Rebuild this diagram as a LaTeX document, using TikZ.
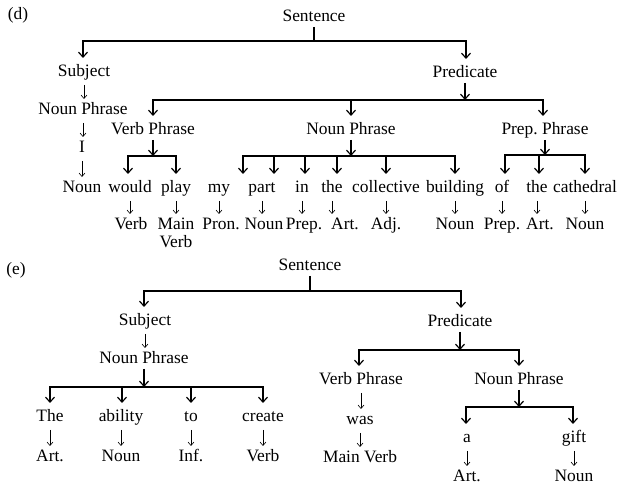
\documentclass[tikz,border=0pt]{standalone}
\usepackage{fontspec}
\setmainfont{Liberation Serif}
\usetikzlibrary{arrows.meta,calc}
\frenchspacing
\newcommand\thinarr[2]{\draw[tA] ($(#1.base)+(0,8)$) -- ($(#1.base |- #2.base)+(0,-16)$);}
\newcommand\parentarr[2]{\draw[bA] ($(#1.base)+(0,5)$) -- (#1.base |- #2);}
\newcommand\cornerarr[4][0]{\draw[bA] (#2.base |- #4) -| ($(#3.base)+(#1,-19)$);}
\newcommand\midarr[3][0]{\draw[bA] ($(#2.base |- #3)+(#1,0)$) -- ($(#2.base)+(#1,-19)$);}
\begin{document}
\begin{tikzpicture}[x=1pt,y=-1pt,
  w/.style={font=\fontsize{17.4}{20}\selectfont, anchor=base, inner sep=0pt},
  bL/.style={line width=1.2pt},
  bA/.style={line width=1.2pt, -{Straight Barb[length=5pt,width=9pt]}},
  tA/.style={line width=0.6pt, -{Straight Barb[length=3.5pt,width=6pt]}}]
\useasboundingbox (0,0) rectangle (625,486);
% ---------------- (d) ----------------
\node[w] (dlab) at (18,20) {(d)};
\node[w] (dSen) at (314,22) {Sentence};
\node[w] (dSubj) at (84,77) {Subject};
\node[w] (dPred) at (465,78) {Predicate};
\node[w] (dNPs) at (83,115) {Noun Phrase};
\node[w] (dI) at (82,153) {I};
\node[w] (dNoun0) at (82,193) {Noun};
\node[w] (dVP) at (153,135) {Verb Phrase};
\node[w] (dNP) at (351,135) {Noun Phrase};
\node[w] (dPP) at (545,135) {Prep.\ Phrase};
\node[w] (dWould) at (130,193) {would};
\node[w] (dPlay) at (176,193) {play};
\node[w] (dMy) at (219,193) {my};
\node[w] (dPart) at (262,193) {part};
\node[w] (dIn) at (302,193) {in};
\node[w] (dThe) at (332,193) {the};
\node[w] (dColl) at (386,193) {collective};
\node[w] (dBuild) at (455,193) {building};
\node[w] (dOf) at (502,193) {of};
\node[w] (dThe2) at (537,193) {the};
\node[w] (dCath) at (585,193) {cathedral};
\node[w] (dVerb) at (131,230) {Verb};
\node[w] (dMain) at (176,230) {Main};
\node[w] (dMainV) at (176,248) {Verb};
\node[w] (dPron) at (221,230) {Pron.};
\node[w] (dNoun1) at (264,230) {Noun};
\node[w] (dPrep1) at (304,230) {Prep.};
\node[w] (dArt1) at (345,230) {Art.};
\node[w] (dAdj) at (386,230) {Adj.};
\node[w] (dNoun2) at (455,230) {Noun};
\node[w] (dPrep2) at (502,230) {Prep.};
\node[w] (dArt2) at (540,230) {Art.};
\node[w] (dNoun3) at (585,230) {Noun};
\coordinate (yA) at (0,41);
\coordinate (yB) at (0,100);
\coordinate (yC) at (0,156);
\coordinate (yD) at (0,156);
\coordinate (yE) at (0,155);
\draw[bL] ($(dSen.base)+(0,5)$) -- (dSen.base |- yA);
\cornerarr[-1]{dSen}{dSubj}{yA}
\cornerarr[1]{dSen}{dPred}{yA}
\parentarr{dPred}{yB}
\cornerarr{dPred}{dVP}{yB}
\cornerarr[-2]{dPred}{dPP}{yB}
\midarr{dNP}{yB}
\parentarr{dVP}{yC}
\cornerarr[-2]{dVP}{dWould}{yC}
\cornerarr{dVP}{dPlay}{yC}
\parentarr{dNP}{yD}
\cornerarr[24]{dNP}{dMy}{yD}
\cornerarr{dNP}{dBuild}{yD}
\midarr[12]{dPart}{yD}
\midarr[3]{dIn}{yD}
\midarr[5]{dThe}{yD}
\midarr{dColl}{yD}
\parentarr{dPP}{yE}
\cornerarr[3]{dPP}{dOf}{yE}
\cornerarr{dPP}{dCath}{yE}
\midarr[2]{dThe2}{yE}
\thinarr{dSubj}{dNPs}
\thinarr{dNPs}{dI}
\thinarr{dI}{dNoun0}
\thinarr{dWould}{dVerb}
\thinarr{dPlay}{dMain}
\thinarr{dMy}{dPron}
\thinarr{dPart}{dNoun1}
\thinarr{dIn}{dPrep1}
\thinarr{dThe}{dArt1}
\thinarr{dColl}{dAdj}
\thinarr{dBuild}{dNoun2}
\thinarr{dOf}{dPrep2}
\thinarr{dThe2}{dArt2}
\thinarr{dCath}{dNoun3}
% ---------------- (e) ----------------
\node[w] (elab) at (16,275) {(e)};
\node[w] (eSen) at (310,271) {Sentence};
\node[w] (eSubj) at (145,326) {Subject};
\node[w] (ePred) at (460,327) {Predicate};
\node[w] (eNPs) at (144,364) {Noun Phrase};
\node[w] (eThe) at (50,422) {The};
\node[w] (eAbil) at (121,422) {ability};
\node[w] (eTo) at (191,422) {to};
\node[w] (eCreate) at (263,422) {create};
\node[w] (eArt) at (50,462) {Art.};
\node[w] (eNoun) at (121,462) {Noun};
\node[w] (eInf) at (191,462) {Inf.};
\node[w] (eVerb) at (263,462) {Verb};
\node[w] (eVP) at (361,385) {Verb Phrase};
\node[w] (eNP) at (519,385) {Noun Phrase};
\node[w] (eWas) at (360,425) {was};
\node[w] (eMainV) at (360,463) {Main Verb};
\node[w] (eA) at (467,443) {a};
\node[w] (eGift) at (574,443) {gift};
\node[w] (eArt2) at (467,482) {Art.};
\node[w] (eNoun2) at (574,482) {Noun};
\coordinate (yF) at (0,291);
\coordinate (yG) at (0,387);
\coordinate (yH) at (0,350);
\coordinate (yI) at (0,407);
\draw[bL] ($(eSen.base)+(0,5)$) -- (eSen.base |- yF);
\cornerarr[-1]{eSen}{eSubj}{yF}
\cornerarr[1]{eSen}{ePred}{yF}
\parentarr{eNPs}{yG}
\cornerarr{eNPs}{eThe}{yG}
\cornerarr{eNPs}{eCreate}{yG}
\midarr[1]{eAbil}{yG}
\midarr{eTo}{yG}
\parentarr{ePred}{yH}
\cornerarr[-2]{ePred}{eVP}{yH}
\cornerarr{ePred}{eNP}{yH}
\parentarr{eNP}{yI}
\cornerarr[-1]{eNP}{eA}{yI}
\cornerarr[-1]{eNP}{eGift}{yI}
\thinarr{eSubj}{eNPs}
\thinarr{eThe}{eArt}
\thinarr{eAbil}{eNoun}
\thinarr{eTo}{eInf}
\thinarr{eCreate}{eVerb}
\thinarr{eVP}{eWas}
\thinarr{eWas}{eMainV}
\thinarr{eA}{eArt2}
\thinarr{eGift}{eNoun2}
\end{tikzpicture}
\end{document}
